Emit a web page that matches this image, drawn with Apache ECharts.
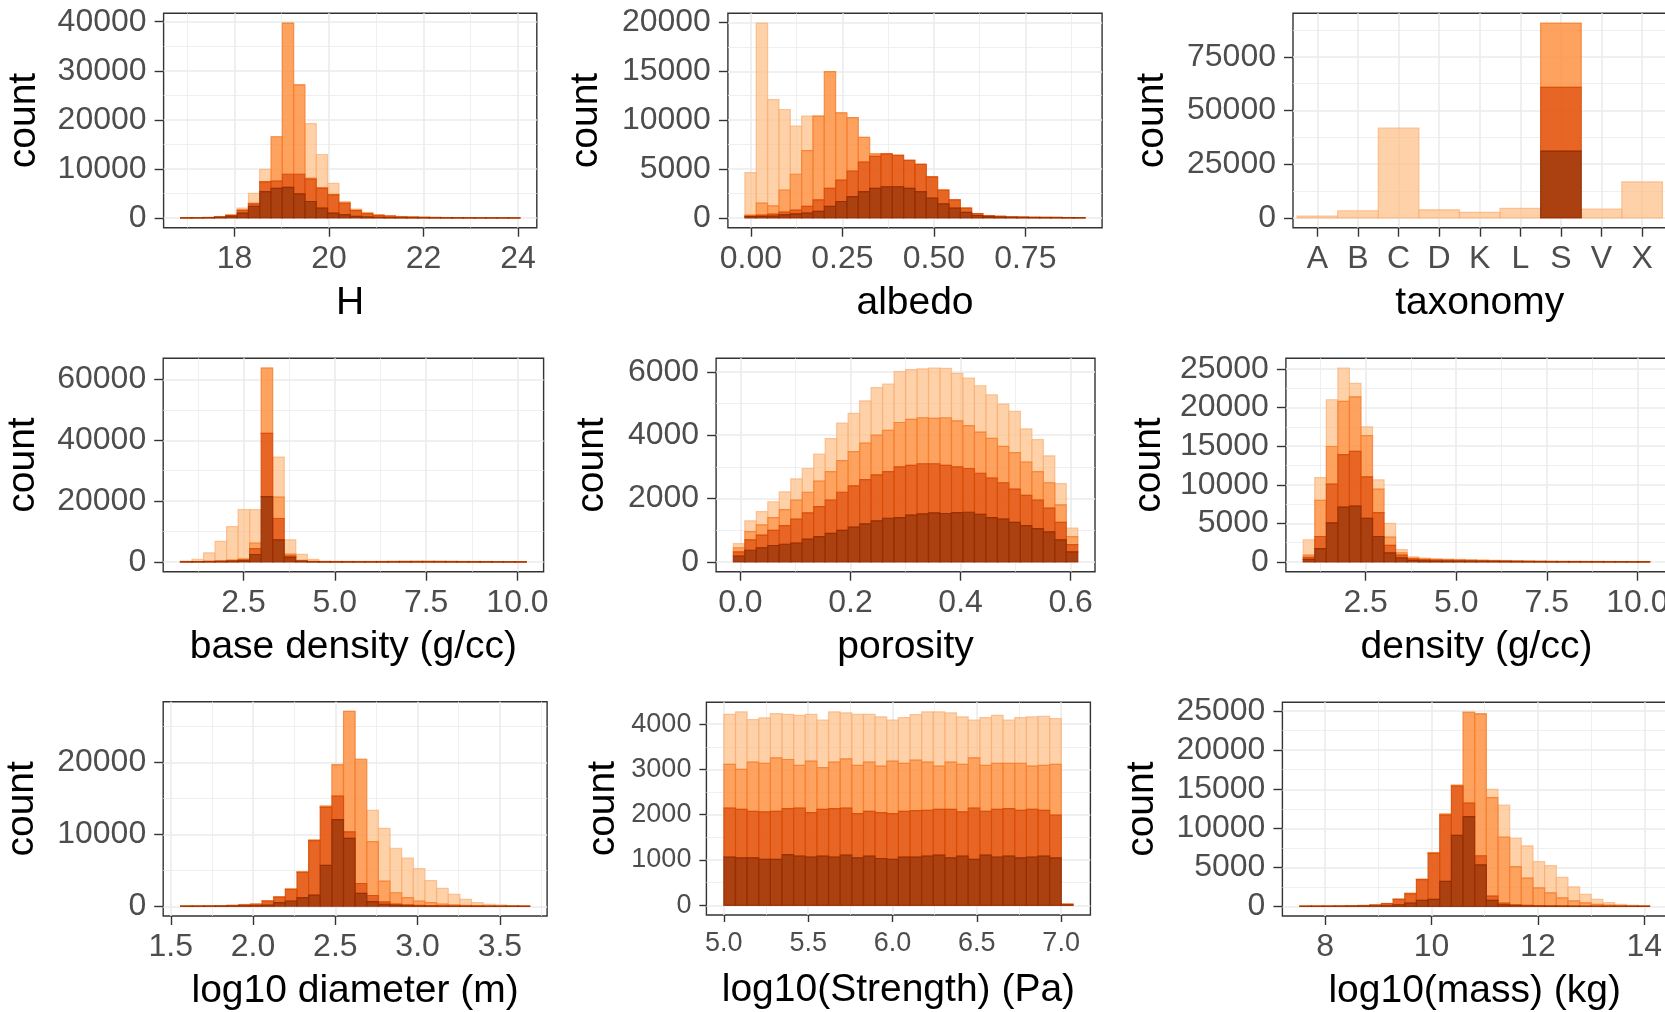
<!DOCTYPE html>
<html>
<head>
<meta charset="utf-8">
<title>Histograms</title>
<script src="https://cdn.jsdelivr.net/npm/echarts@6.0.0/dist/echarts.min.js"></script>
<style>
html,body{margin:0;padding:0;background:#ffffff;}
#chart{width:1665px;height:1012px;}
</style>
</head>
<body>
<div id="chart"></div>
<script>
// ================= DATA =================
// Stacked histograms, 30 bins each. For every group the array holds the
// cumulative stack top in each bin (brown at the bottom, then dark, orange, light on top).

// ---- H ----
const H_binStart = 16.86, H_binWidth = 0.2393;
const H_brown  = [20, 30, 60, 150, 400, 1000, 2350, 5360, 6030, 6230, 4890, 3350, 2010, 1000, 670, 335, 200, 120, 80, 50, 40, 30, 20, 15, 12, 10, 8, 6, 4, 3];
const H_dark   = [30, 40, 80, 200, 500, 1540, 2880, 7370, 7500, 8910, 8910, 7900, 6030, 4690, 3000, 1500, 900, 520, 360, 230, 170, 120, 90, 70, 55, 45, 35, 25, 18, 12];
const H_orange = [30, 40, 90, 220, 550, 1600, 3000, 7400, 16550, 39730, 27140, 8100, 6200, 4800, 3100, 1600, 950, 550, 380, 250, 185, 135, 98, 78, 60, 48, 37, 27, 19, 13];
const H_light  = [40, 60, 120, 300, 700, 2010, 5025, 9920, 16550, 39730, 27140, 19230, 12930, 7035, 3350, 1810, 1140, 670, 470, 300, 220, 160, 120, 90, 70, 55, 40, 30, 20, 15];
const H_xlabels = ['18', '20', '22', '24'];
const H_ylabels = ['0', '10000', '20000', '30000', '40000'];

// ---- albedo ----
const ALB_binStart = -0.0165, ALB_binWidth = 0.031;
const ALB_brown  = [150, 170, 200, 340, 420, 500, 670, 1180, 1680, 2185, 2690, 3025, 3190, 3190, 3025, 2690, 2020, 1445, 1010, 570, 250, 130, 90, 60, 50, 40, 30, 30, 20, 20];
const ALB_dark   = [200, 300, 400, 600, 800, 1180, 1850, 3025, 3870, 4800, 5710, 6300, 6550, 6390, 5880, 5480, 4200, 2860, 1850, 1010, 440, 235, 170, 110, 90, 70, 60, 50, 40, 30];
const ALB_orange = [300, 1510, 1240, 2860, 4470, 6890, 10420, 14960, 10750, 10250, 8235, 6550, 6550, 6390, 5880, 5480, 4200, 2860, 1850, 1010, 440, 235, 170, 110, 90, 70, 60, 50, 40, 30];
const ALB_light  = [4640, 19930, 12100, 11090, 9400, 10420, 10420, 14960, 10750, 10250, 8235, 6550, 6550, 6390, 5880, 5480, 4200, 2860, 1850, 1010, 440, 235, 170, 110, 90, 70, 60, 50, 40, 30];
const ALB_xlabels = ['0.00', '0.25', '0.50', '0.75'];
const ALB_ylabels = ['0', '5000', '10000', '15000', '20000'];

// ---- taxonomy ----
const TAX_cats   = ['A', 'B', 'C', 'D', 'K', 'L', 'S', 'V', 'X'];
const TAX_brown  = [0, 0, 0, 0, 0, 0, 31100, 0, 0];
const TAX_dark   = [0, 0, 0, 0, 0, 0, 60800, 0, 0];
const TAX_orange = [0, 0, 0, 0, 0, 0, 90700, 0, 0];
const TAX_light  = [900, 3350, 41770, 3800, 2600, 4420, 90700, 4100, 16770];
const TAX_ylabels = ['0', '25000', '50000', '75000'];

// ---- base density ----
const BD_binStart = 0.774, BD_binWidth = 0.3156;
const BD_brown  = [60, 80, 100, 150, 250, 400, 2470, 21500, 7300, 1500, 250, 80, 50, 40, 40, 40, 40, 45, 50, 55, 60, 60, 55, 50, 45, 40, 35, 30, 25, 20];
const BD_dark   = [80, 120, 180, 280, 450, 700, 4400, 42260, 14300, 2000, 400, 150, 100, 90, 90, 90, 90, 100, 110, 120, 130, 130, 120, 110, 100, 90, 80, 70, 60, 50];
const BD_orange = [100, 150, 250, 400, 650, 1000, 6240, 63760, 21300, 2600, 550, 200, 140, 130, 130, 130, 130, 140, 160, 180, 190, 190, 180, 160, 140, 130, 110, 100, 80, 60];
const BD_light  = [300, 900, 3000, 6800, 11600, 17200, 17200, 63760, 34500, 7300, 2500, 860, 300, 260, 240, 230, 230, 250, 280, 320, 340, 340, 320, 290, 250, 220, 190, 160, 130, 100];
const BD_xlabels = ['2.5', '5.0', '7.5', '10.0'];
const BD_ylabels = ['0', '20000', '40000', '60000'];

// ---- porosity ----
const POR_binStart = -0.0129, POR_binWidth = 0.02086;
const POR_brown  = [190, 370, 450, 520, 560, 600, 720, 800, 900, 1000, 1100, 1200, 1300, 1380, 1400, 1480, 1520, 1550, 1530, 1560, 1570, 1500, 1400, 1350, 1250, 1150, 1050, 950, 700, 320];
const POR_dark   = [320, 700, 850, 1000, 1150, 1350, 1550, 1750, 1950, 2200, 2400, 2600, 2750, 2850, 3000, 3050, 3100, 3100, 3050, 3000, 2950, 2800, 2650, 2500, 2300, 2100, 1950, 1700, 1250, 550];
const POR_orange = [450, 960, 1170, 1400, 1650, 1950, 2200, 2550, 2850, 3200, 3480, 3750, 4000, 4150, 4400, 4500, 4550, 4530, 4550, 4450, 4300, 4100, 3900, 3650, 3450, 3150, 2850, 2500, 1800, 800];
const POR_light  = [580, 1300, 1590, 1900, 2210, 2620, 2950, 3400, 3890, 4380, 4690, 5080, 5500, 5610, 6010, 6070, 6090, 6120, 6110, 5950, 5800, 5560, 5270, 4980, 4750, 4200, 3860, 3350, 2470, 1070];
const POR_xlabels = ['0.0', '0.2', '0.4', '0.6'];
const POR_ylabels = ['0', '2000', '4000', '6000'];

// ---- density ----
const DEN_binStart = 0.778, DEN_binWidth = 0.3187;
const DEN_brown  = [340, 1740, 5080, 7120, 7250, 5640, 3300, 1190, 550, 200, 150, 120, 110, 100, 90, 80, 70, 60, 50, 40, 35, 30, 28, 26, 24, 22, 20, 20, 18, 18];
const DEN_dark   = [600, 3300, 10080, 13900, 14320, 11020, 6400, 2160, 900, 400, 300, 250, 220, 200, 180, 160, 140, 120, 100, 80, 70, 60, 55, 50, 48, 45, 42, 40, 38, 36];
const DEN_orange = [900, 7970, 14960, 20800, 21400, 16360, 9450, 3220, 1200, 500, 400, 330, 300, 270, 240, 210, 180, 160, 130, 110, 95, 80, 75, 70, 65, 60, 57, 55, 52, 50];
const DEN_light  = [2880, 10930, 21020, 25130, 23140, 17500, 10640, 5000, 1610, 680, 500, 420, 380, 340, 300, 260, 230, 200, 170, 140, 120, 100, 95, 90, 85, 80, 76, 73, 70, 68];
const DEN_xlabels = ['2.5', '5.0', '7.5', '10.0'];
const DEN_ylabels = ['0', '5000', '10000', '15000', '20000', '25000'];

// ---- log10 diameter ----
const DIA_binStart = 1.56, DIA_binWidth = 0.0707;
const DIA_brown  = [10, 10, 15, 20, 30, 50, 80, 150, 500, 730, 1190, 1560, 5690, 12060, 9450, 1790, 640, 280, 150, 80, 50, 30, 20, 15, 10, 8, 5, 3, 2, 1];
const DIA_dark   = [15, 20, 30, 50, 100, 180, 280, 730, 1280, 2340, 4720, 9130, 13760, 15320, 10350, 3170, 1500, 600, 300, 200, 120, 80, 50, 30, 20, 15, 10, 6, 4, 2];
const DIA_orange = [20, 25, 40, 60, 120, 210, 300, 750, 1300, 2380, 4780, 9200, 13900, 19680, 27110, 20460, 8990, 3490, 1880, 1190, 730, 500, 300, 200, 120, 80, 50, 30, 20, 10];
const DIA_light  = [25, 30, 50, 80, 150, 250, 320, 780, 1330, 2420, 4820, 9250, 14000, 19750, 27110, 20460, 13350, 10830, 8070, 6700, 5230, 3580, 2480, 1650, 960, 500, 280, 180, 90, 50];
const DIA_xlabels = ['1.5', '2.0', '2.5', '3.0', '3.5'];
const DIA_ylabels = ['0', '10000', '20000'];

// ---- log10(Strength) ----
const STR_binStart = 5.0, STR_binWidth = 0.069;
const STR_brown  = [1063, 1049, 1049, 1013, 1013, 1121, 1085, 1063, 1085, 1063, 1107, 1049, 1085, 1034, 1013, 1063, 1063, 1085, 1107, 1049, 1085, 1013, 1107, 1063, 1085, 1049, 1063, 1085, 1049, 10];
const STR_dark   = [2148, 2119, 2076, 2061, 2076, 2134, 2148, 2047, 2119, 2134, 2148, 2025, 2076, 2047, 2025, 2076, 2090, 2098, 2119, 2119, 2061, 2148, 2076, 2119, 2134, 2098, 2119, 2098, 1989, 20];
const STR_orange = [3110, 3002, 3161, 3132, 3255, 3219, 3089, 3183, 3038, 3161, 3233, 3089, 3161, 3074, 3183, 3132, 3204, 3161, 3074, 3161, 3110, 3255, 3089, 3132, 3132, 3132, 3074, 3089, 3110, 28];
const STR_light  = [4217, 4268, 4101, 4137, 4231, 4217, 4195, 4217, 4087, 4268, 4246, 4217, 4217, 4159, 4087, 4145, 4210, 4268, 4268, 4246, 4159, 4087, 4145, 4195, 4087, 4145, 4159, 4174, 4123, 36];
const STR_xlabels = ['5.0', '5.5', '6.0', '6.5', '7.0'];
const STR_ylabels = ['0', '1000', '2000', '3000', '4000'];

// ---- log10(mass) ----
const MAS_binStart = 7.523, MAS_binWidth = 0.2192;
const MAS_brown  = [5, 5, 8, 10, 15, 25, 40, 60, 200, 420, 760, 880, 3200, 9090, 11490, 5300, 760, 200, 80, 50, 30, 20, 15, 10, 8, 5, 4, 3, 2, 1];
const MAS_dark   = [10, 12, 18, 30, 50, 90, 160, 340, 880, 1600, 3410, 6780, 11700, 15400, 13220, 6480, 1300, 400, 200, 120, 80, 60, 40, 30, 20, 15, 10, 8, 5, 3];
const MAS_orange = [12, 15, 22, 35, 60, 100, 170, 350, 900, 1650, 3450, 6850, 11800, 15500, 24870, 24660, 13930, 8880, 5090, 3620, 2360, 1730, 1090, 700, 450, 250, 150, 80, 40, 20];
const MAS_light  = [15, 20, 28, 45, 75, 120, 190, 370, 930, 1700, 3500, 6900, 11850, 15550, 24900, 24700, 14980, 12960, 8750, 7740, 5720, 5220, 3700, 2480, 1520, 880, 460, 250, 130, 80];
const MAS_xlabels = ['8', '10', '12', '14'];
const MAS_ylabels = ['0', '5000', '10000', '15000', '20000', '25000'];

// ================= PANELS =================
const PANELS = [
  {xname: 'H', start: H_binStart, w: H_binWidth, layers: [H_brown, H_dark, H_orange, H_light], xl: H_xlabels, yl: H_ylabels},
  {xname: 'albedo', start: ALB_binStart, w: ALB_binWidth, layers: [ALB_brown, ALB_dark, ALB_orange, ALB_light], xl: ALB_xlabels, yl: ALB_ylabels},
  {xname: 'taxonomy', cats: TAX_cats, layers: [TAX_brown, TAX_dark, TAX_orange, TAX_light], yl: TAX_ylabels},
  {xname: 'base density (g/cc)', start: BD_binStart, w: BD_binWidth, layers: [BD_brown, BD_dark, BD_orange, BD_light], xl: BD_xlabels, yl: BD_ylabels},
  {xname: 'porosity', start: POR_binStart, w: POR_binWidth, layers: [POR_brown, POR_dark, POR_orange, POR_light], xl: POR_xlabels, yl: POR_ylabels},
  {xname: 'density (g/cc)', start: DEN_binStart, w: DEN_binWidth, layers: [DEN_brown, DEN_dark, DEN_orange, DEN_light], xl: DEN_xlabels, yl: DEN_ylabels},
  {xname: 'log10 diameter (m)', start: DIA_binStart, w: DIA_binWidth, layers: [DIA_brown, DIA_dark, DIA_orange, DIA_light], xl: DIA_xlabels, yl: DIA_ylabels},
  {xname: 'log10(Strength) (Pa)', start: STR_binStart, w: STR_binWidth, layers: [STR_brown, STR_dark, STR_orange, STR_light], xl: STR_xlabels, yl: STR_ylabels},
  {xname: 'log10(mass) (kg)', start: MAS_binStart, w: MAS_binWidth, layers: [MAS_brown, MAS_dark, MAS_orange, MAS_light], xl: MAS_xlabels, yl: MAS_ylabels}
];

// ================= LAYOUT / STYLE =================
const LAYOUT = [
  {l: 163.6,  t: 13.3,  r: 536.8,  b: 227.7, yGap: 120},
  {l: 727.9,  t: 13.3,  r: 1102.1, b: 227.7, yGap: 122},
  {l: 1293,   t: 13.3,  r: 1666.5, b: 227.7, yGap: 121},
  {l: 163.2,  t: 358.3, r: 543.6,  b: 571.7, yGap: 120},
  {l: 716.1,  t: 358.3, r: 1095,   b: 571.7, yGap: 104},
  {l: 1285.9, t: 358.3, r: 1667,   b: 571.7, yGap: 117},
  {l: 163.2,  t: 701.7, r: 547.1,  b: 916,   yGap: 121},
  {l: 706.4,  t: 702.3, r: 1090.4, b: 915,   yGap: 84, tickFont: 27, tickLen: 7, yMargin: 15, xMargin: 15},
  {l: 1282.4, t: 702.3, r: 1667,   b: 916,   yGap: 121}
];
const FONT = '"Liberation Sans", Arial, Helvetica, sans-serif';
const LAYER_STYLE = [
  {fill: 'rgba(166,54,3,0.95)',   stroke: 'rgba(150,45,0,0.9)'},   // brown
  {fill: 'rgba(230,85,13,0.9)',   stroke: 'rgba(215,75,5,0.85)'},  // dark orange
  {fill: 'rgba(253,141,60,0.82)', stroke: 'rgba(245,125,45,0.8)'}, // orange
  {fill: 'rgba(253,190,133,0.7)', stroke: 'rgba(250,175,115,0.7)'} // light
];
const GRID_COLOR = '#ebebeb';
const TEXT_GREY = '#4d4d4d';

function minorOf(vals, lo, hi) {
  if (vals.length < 2) return [];
  const s = vals[1] - vals[0];
  const out = [];
  for (let i = -1; i < vals.length; i++) {
    const m = vals[0] + (i + 0.5) * s;
    if (m > lo && m < hi) out.push(m);
  }
  return out;
}
function labelLookup(labels) {
  const vals = labels.map(parseFloat);
  return function (v) {
    for (let i = 0; i < vals.length; i++) if (Math.abs(vals[i] - v) < 1e-9 * Math.max(1, Math.abs(v))) return labels[i];
    return '';
  };
}
function makeRender(style, skipZero) {
  return function (params, api) {
    const x0 = api.value(0), x1 = api.value(1), y0 = api.value(2), y1 = api.value(3);
    if (skipZero && !(y1 > y0)) return;
    const p0 = api.coord([x0, y1]);
    const p1 = api.coord([x1, y0]);
    return {
      type: 'rect',
      shape: {x: p0[0], y: p0[1], width: p1[0] - p0[0], height: p1[1] - p0[1]},
      style: {fill: style.fill, stroke: style.stroke, lineWidth: 1.2}
    };
  };
}

const option = {animation: false, backgroundColor: '#ffffff', grid: [], xAxis: [], yAxis: [], series: []};

PANELS.forEach(function (P, i) {
  const L = LAYOUT[i];
  const tickFont = L.tickFont || 32, tickLen = L.tickLen || 9;
  const yMargin = L.yMargin || 17, xMargin = L.xMargin || 15;
  option.grid.push({
    left: L.l, top: L.t, width: L.r - L.l, height: L.b - L.t,
    show: true, backgroundColor: '#ffffff', borderColor: '#333333', borderWidth: 1.4,
    containLabel: false, outerBoundsMode: 'none'
  });

  let xmin, xmax, xMajor, xFmt, xMinor;
  const nb = P.layers[3].length;
  if (P.cats) {
    xmin = -0.6; xmax = P.cats.length - 1 + 0.6;
    xMajor = P.cats.map(function (c, k) { return k; });
    xFmt = function (v) { return P.cats[Math.round(v)] || ''; };
    xMinor = [];
  } else {
    const span = nb * P.w;
    xmin = P.start - 0.05 * span; xmax = P.start + span + 0.05 * span;
    xMajor = P.xl.map(parseFloat);
    xFmt = labelLookup(P.xl);
    xMinor = minorOf(xMajor, xmin, xmax);
  }
  const ymaxData = Math.max.apply(null, P.layers[3]);
  const ymin = -0.05 * ymaxData, ymax = 1.05 * ymaxData;
  const yMajor = P.yl.map(parseFloat);
  const yMinor = minorOf(yMajor, ymin, ymax);
  const yFmt = labelLookup(P.yl);

  const gi = i;
  option.xAxis.push({
    type: 'value', gridIndex: gi, min: xmin, max: xmax, position: 'bottom',
    axisLine: {show: false, onZero: false},
    axisTick: {show: true, length: tickLen, lineStyle: {color: '#333333', width: 1.4}, customValues: xMajor},
    axisLabel: {show: true, customValues: xMajor, formatter: xFmt, fontSize: tickFont, color: TEXT_GREY, fontFamily: FONT, margin: xMargin},
    splitLine: {show: true, lineStyle: {color: GRID_COLOR, width: 1.6}},
    name: P.xname, nameLocation: 'middle', nameGap: 56,
    nameTextStyle: {fontSize: 39, color: '#000000', fontFamily: FONT}
  });
  option.xAxis.push({
    type: 'value', gridIndex: gi, min: xmin, max: xmax, position: 'bottom', show: xMinor.length > 0,
    axisLine: {show: false, onZero: false},
    axisTick: {show: false, customValues: xMinor.length ? xMinor : [xmin]},
    axisLabel: {show: false},
    splitLine: {show: xMinor.length > 0, lineStyle: {color: GRID_COLOR, width: 0.8}}
  });
  option.yAxis.push({
    type: 'value', gridIndex: gi, min: ymin, max: ymax, position: 'left',
    axisLine: {show: false, onZero: false},
    axisTick: {show: true, length: tickLen, lineStyle: {color: '#333333', width: 1.4}, customValues: yMajor},
    axisLabel: {show: true, customValues: yMajor, formatter: yFmt, fontSize: tickFont, color: TEXT_GREY, fontFamily: FONT, margin: yMargin},
    splitLine: {show: true, lineStyle: {color: GRID_COLOR, width: 1.6}},
    name: 'count', nameLocation: 'middle', nameGap: L.yGap,
    nameTextStyle: {fontSize: 39, color: '#000000', fontFamily: FONT}
  });
  option.yAxis.push({
    type: 'value', gridIndex: gi, min: ymin, max: ymax, position: 'left',
    axisLine: {show: false, onZero: false},
    axisTick: {show: false, customValues: yMinor},
    axisLabel: {show: false},
    splitLine: {show: true, lineStyle: {color: GRID_COLOR, width: 0.8}}
  });

  for (let k = 0; k < 4; k++) {
    const tops = P.layers[k];
    const below = k > 0 ? P.layers[k - 1] : null;
    const data = tops.map(function (top, j) {
      const base = below ? below[j] : 0;
      if (P.cats) return [j - 0.5, j + 0.5, base, top];
      return [P.start + j * P.w, P.start + (j + 1) * P.w, base, top];
    });
    option.series.push({
      type: 'custom', xAxisIndex: 2 * gi, yAxisIndex: 2 * gi,
      renderItem: makeRender(LAYER_STYLE[k], !!P.cats),
      data: data, z: 4 - k, silent: true
    });
  }
});

const chart = echarts.init(document.getElementById('chart'), null, {renderer: 'canvas'});
chart.setOption(option);
</script>
</body>
</html>
